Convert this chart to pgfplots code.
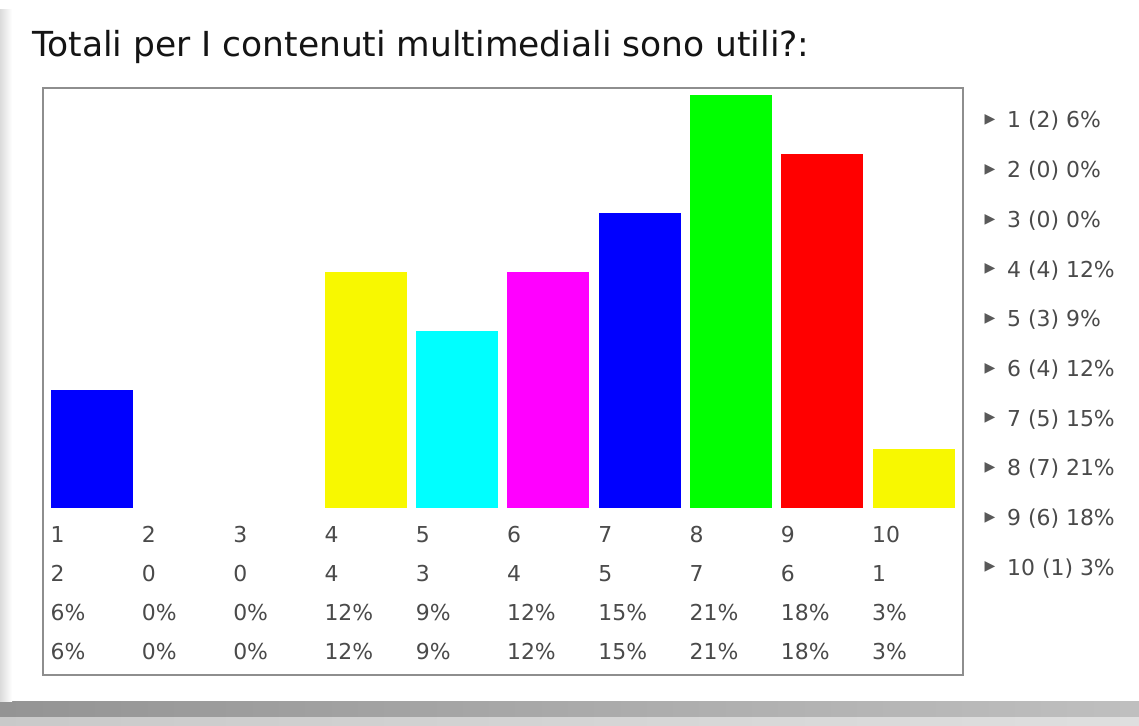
\documentclass[border=0pt]{standalone}
\usepackage{fontspec}
\setmainfont{DejaVu Sans}
\usepackage{pgfplots}
\pgfplotsset{compat=1.18}
\definecolor{txt}{HTML}{4A4A4A}
\definecolor{frm}{HTML}{8E8E8E}
\definecolor{cblue}{HTML}{0000FF}
\definecolor{cyellow}{HTML}{F8F800}
\definecolor{ccyan}{HTML}{00FFFF}
\definecolor{cmagenta}{HTML}{FF00FF}
\definecolor{cgreen}{HTML}{00FF00}
\definecolor{cred}{HTML}{FF0000}
\begin{document}
\begin{tikzpicture}[x=1bp,y=1bp]
\useasboundingbox (0,0) rectangle (1139,726);
\fill[white] (0,0) rectangle (1139,726);
% page shadow
\shade[left color=black!42, right color=black!25] (0,0) rectangle (1139,24);
\shade[top color=black!0, bottom color=white, opacity=0.5] (0,0) rectangle (1139,8);
\shade[left color=black!14, right color=white] (0,24) rectangle (12,716);
% title
\node[anchor=base west, inner sep=0pt, font=\fontsize{34.6}{40}\selectfont, text=black!92] at (32,669) {Totali per I contenuti multimediali sono utili?:};
\begin{axis}[
  at={(43bp,51bp)}, anchor=south west,
  width=920bp, height=587bp, scale only axis,
  xmin=0.4632, xmax=10.542, ymin=-2.819, ymax=7.119,
  ytick=\empty, xtick={1,...,10},
  xticklabels={
    {1\\2\\6\%\\6\%},{2\\0\\0\%\\0\%},{3\\0\\0\%\\0\%},{4\\4\\12\%\\12\%},
    {5\\3\\9\%\\9\%},{6\\4\\12\%\\12\%},{7\\5\\15\%\\15\%},{8\\7\\21\%\\21\%},
    {9\\6\\18\%\\18\%},{10\\1\\3\%\\3\%}},
  major tick length=0pt,
  axis line style={draw=frm, line width=1.6bp},
  x tick label style={anchor=north west, inner sep=0pt, xshift=-41.5bp, yshift=149bp,
    align=left, font=\fontsize{22}{39.3}\selectfont, text=txt},
  clip=false,
]
\addplot[ybar, bar width=82bp, fill=cblue, draw=none] coordinates {(1,2)};
\addplot[ybar, bar width=82bp, fill=cyellow, draw=none] coordinates {(4,4)};
\addplot[ybar, bar width=82bp, fill=ccyan, draw=none] coordinates {(5,3)};
\addplot[ybar, bar width=82bp, fill=cmagenta, draw=none] coordinates {(6,4)};
\addplot[ybar, bar width=82bp, fill=cblue, draw=none] coordinates {(7,5)};
\addplot[ybar, bar width=82bp, fill=cgreen, draw=none] coordinates {(8,7)};
\addplot[ybar, bar width=82bp, fill=cred, draw=none] coordinates {(9,6)};
\addplot[ybar, bar width=82bp, fill=cyellow, draw=none] coordinates {(10,1)};
\end{axis}
% legend
\foreach \t [count=\i] in {1 (2) 6\%, 2 (0) 0\%, 3 (0) 0\%, 4 (4) 12\%, 5 (3) 9\%, 6 (4) 12\%, 7 (5) 15\%, 8 (7) 21\%, 9 (6) 18\%, 10 (1) 3\%}{
  \pgfmathsetmacro{\yc}{726-(120+(\i-1)*49.7)}
  \node[anchor=center, inner sep=0pt, font=\fontsize{14}{16}\selectfont, text=black!65] at (990,\yc) {▶};
  \node[anchor=base west, inner sep=0pt, font=\fontsize{22}{26}\selectfont, text=txt] at (1007,\yc-8) {\t};
}
\end{tikzpicture}
\end{document}
